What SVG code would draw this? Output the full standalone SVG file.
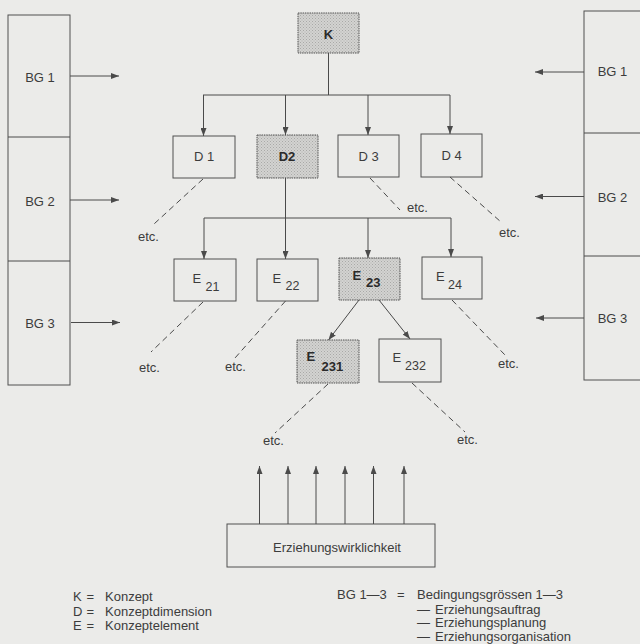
<svg xmlns="http://www.w3.org/2000/svg" width="640" height="644" viewBox="0 0 640 644">
<defs>
<marker id="ah" markerUnits="userSpaceOnUse" markerWidth="8" markerHeight="6" refX="8" refY="3" orient="auto">
<path d="M0,0 L8,3 L0,6 z" fill="#4a4a4a"/>
</marker>
<pattern id="dots" width="3" height="3" patternUnits="userSpaceOnUse">
<rect width="3" height="3" fill="#d3d3d1"/>
<rect width="1" height="1" fill="#a9a9a7"/>
<rect x="1.5" y="1.5" width="1" height="1" fill="#b2b2b0"/>
</pattern>
</defs>
<style>
.bg{fill:#ebebe9}
.box{fill:none;stroke:#505050;stroke-width:1}
.sh{fill:url(#dots);stroke:#505050;stroke-width:1;stroke-dasharray:1.5,0.8}
.ln{fill:none;stroke:#4a4a4a;stroke-width:1}
.ar{fill:none;stroke:#4a4a4a;stroke-width:1;marker-end:url(#ah)}
.ds{fill:none;stroke:#4a4a4a;stroke-width:1;stroke-dasharray:6,4}
text{font-family:"Liberation Sans",Arial,sans-serif;fill:#3c3c3c;font-size:13px}
.b{font-weight:bold;fill:#2a2a2a}
.m{text-anchor:middle}
.sub{font-size:12.5px}
</style>
<rect class="bg" x="0" y="0" width="640" height="644"/>

<g id="bg-left">
<rect class="box" x="8" y="15" width="62" height="370"/>
<line class="ln" x1="8" y1="137" x2="70" y2="137"/>
<line class="ln" x1="8" y1="261" x2="70" y2="261"/>
<text class="m" x="40" y="81.5">BG 1</text>
<text class="m" x="40" y="205.5">BG 2</text>
<text class="m" x="40" y="328">BG 3</text>
</g>
<g id="bg-right">
<rect class="box" x="584" y="11" width="70" height="369"/>
<line class="ln" x1="584" y1="133" x2="640" y2="133"/>
<line class="ln" x1="584" y1="256" x2="640" y2="256"/>
<text class="m" x="612.5" y="76">BG 1</text>
<text class="m" x="612.5" y="201.5">BG 2</text>
<text class="m" x="612.5" y="323">BG 3</text>
</g>

<g id="node-K"><rect class="sh" x="298" y="13" width="61" height="40"/><text class="m b" x="328.5" y="38.5" font-size="15">K</text></g>
<g id="node-D1"><rect class="box" x="173" y="136" width="62" height="42"/><text class="m" x="204" y="161">D 1</text></g>
<g id="node-D2"><rect class="sh" x="257" y="135" width="61" height="43"/><text class="m b" x="287" y="161" font-size="14">D2</text></g>
<g id="node-D3"><rect class="box" x="338" y="135" width="61" height="42"/><text class="m" x="368.5" y="160.5">D 3</text></g>
<g id="node-D4"><rect class="box" x="421" y="134" width="61" height="43"/><text class="m" x="451.5" y="159.5">D 4</text></g>

<g id="node-E21"><rect class="box" x="174" y="259" width="62" height="42"/><text x="192.5" y="283">E<tspan class="sub" x="205.5" y="290.5">21</tspan></text></g>
<g id="node-E22"><rect class="box" x="257" y="259" width="61" height="42"/><text x="272.5" y="282.5">E<tspan class="sub" x="285.5" y="290">22</tspan></text></g>
<g id="node-E23"><rect class="sh" x="339" y="258" width="61" height="42"/><text class="b" x="352.5" y="279.5" font-size="14">E<tspan x="366" y="287">23</tspan></text></g>
<g id="node-E24"><rect class="box" x="422" y="257" width="60" height="42"/><text x="436" y="281">E<tspan class="sub" x="448" y="288.5">24</tspan></text></g>
<g id="node-E231"><rect class="sh" x="297" y="340" width="62" height="43"/><text class="b" x="306.5" y="360.5" font-size="15">E<tspan x="321.5" y="371">231</tspan></text></g>
<g id="node-E232"><rect class="box" x="379" y="339" width="62" height="43"/><text x="392.5" y="362">E<tspan class="sub" x="405" y="370">232</tspan></text></g>

<g id="node-reality"><rect class="box" x="227" y="524" width="208" height="43"/><text class="m" x="337" y="551.5">Erziehungswirklichkeit</text></g>

<g id="connectors">
<line class="ln" x1="328.5" y1="53" x2="328.5" y2="95"/>
<line class="ln" x1="203" y1="95" x2="450" y2="95"/>
<line class="ar" x1="203.5" y1="95" x2="203.5" y2="136"/>
<line class="ar" x1="285.5" y1="95" x2="285.5" y2="135"/>
<line class="ar" x1="368" y1="95" x2="368" y2="135"/>
<line class="ar" x1="450" y1="95" x2="450" y2="134"/>
<line class="ln" x1="285.5" y1="178" x2="285.5" y2="218"/>
<line class="ln" x1="204" y1="218" x2="451" y2="218"/>
<line class="ar" x1="204" y1="218" x2="204" y2="259"/>
<line class="ar" x1="285.5" y1="218" x2="285.5" y2="259"/>
<line class="ar" x1="368" y1="218" x2="368" y2="258"/>
<line class="ar" x1="451" y1="218" x2="451" y2="257"/>
<line class="ar" x1="359" y1="300" x2="328.5" y2="340"/>
<line class="ar" x1="379" y1="300" x2="410" y2="339"/>
<line class="ar" x1="70" y1="76" x2="119" y2="76"/>
<line class="ar" x1="70" y1="200" x2="119" y2="200"/>
<line class="ar" x1="71" y1="322.5" x2="120" y2="322.5"/>
<line class="ar" x1="584" y1="72" x2="535" y2="72"/>
<line class="ar" x1="584" y1="196.5" x2="535" y2="196.5"/>
<line class="ar" x1="584" y1="318" x2="536" y2="318"/>
<line class="ar" x1="259.5" y1="524" x2="259.5" y2="466"/>
<line class="ar" x1="288" y1="524" x2="288" y2="466"/>
<line class="ar" x1="316" y1="524" x2="316" y2="466"/>
<line class="ar" x1="345" y1="524" x2="345" y2="466"/>
<line class="ar" x1="373.5" y1="524" x2="373.5" y2="466"/>
<line class="ar" x1="404" y1="524" x2="404" y2="466"/>
<line class="ds" x1="203" y1="179" x2="154" y2="224"/>
<line class="ds" x1="370" y1="178" x2="400" y2="210"/>
<line class="ds" x1="450" y1="177" x2="501" y2="222"/>
<line class="ds" x1="203" y1="302" x2="151" y2="352"/>
<line class="ds" x1="285.5" y1="301" x2="235" y2="358"/>
<line class="ds" x1="452" y1="300" x2="505" y2="355"/>
<line class="ds" x1="328" y1="384" x2="275" y2="433"/>
<line class="ds" x1="412" y1="383" x2="465" y2="432"/>
</g>

<g id="etc-labels">
<text x="138" y="240.5">etc.</text>
<text x="407" y="211.5">etc.</text>
<text x="499" y="237">etc.</text>
<text x="139" y="371.5">etc.</text>
<text x="225" y="370.5">etc.</text>
<text x="498" y="367.5">etc.</text>
<text x="263" y="444.5">etc.</text>
<text x="457" y="443.5">etc.</text>
</g>

<g id="legend">
<text x="73" y="600.5">K</text><text x="86.5" y="600.5">=</text><text x="105" y="600.5">Konzept</text>
<text x="73" y="615.5">D</text><text x="86.5" y="615.5">=</text><text x="105" y="615.5">Konzeptdimension</text>
<text x="73" y="629.5">E</text><text x="86.5" y="629.5">=</text><text x="105" y="629.5">Konzeptelement</text>
<text x="337" y="599">BG 1—3</text><text x="397" y="599">=</text><text x="417" y="599">Bedingungsgrössen 1—3</text>
<text x="417" y="613.5">—</text><text x="435" y="613.5">Erziehungsauftrag</text>
<text x="417" y="627">—</text><text x="435" y="627">Erziehungsplanung</text>
<text x="417" y="640.5">—</text><text x="435" y="640.5">Erziehungsorganisation</text>
</g>
</svg>
